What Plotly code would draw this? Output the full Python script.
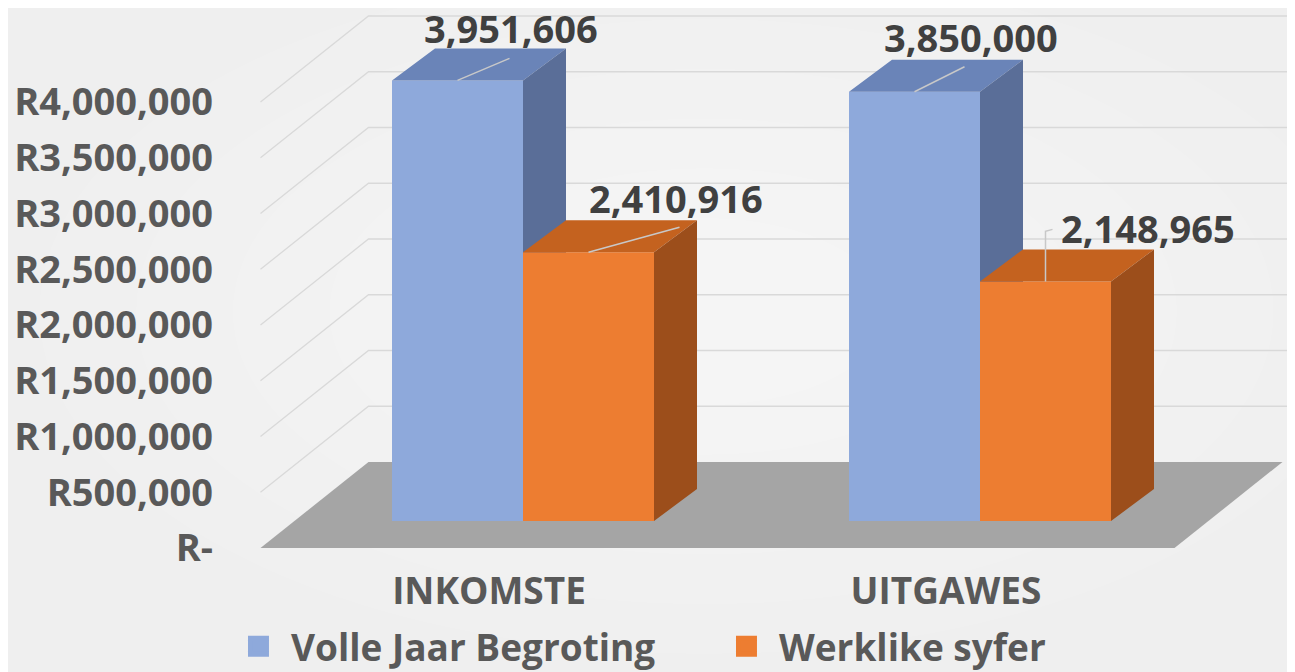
import plotly.graph_objects as go

# ---------------- data ----------------
categories = ["INKOMSTE", "UITGAWES"]
series_names = ["Volle Jaar Begroting", "Werklike syfer"]
begroting = [3951606, 3850000]
werklik = [2410916, 2148965]
data_labels_beg = ["3,951,606", "3,850,000"]
data_labels_wer = ["2,410,916", "2,148,965"]
tick_values = [0, 500000, 1000000, 1500000, 2000000, 2500000, 3000000, 3500000, 4000000]
tick_labels = ["R-", "R500,000", "R1,000,000", "R1,500,000", "R2,000,000",
               "R2,500,000", "R3,000,000", "R3,500,000", "R4,000,000"]

# ---------------- style / geometry ----------------
PAGE_OFF = 8                      # default body margin of the html page
W, H = 1295 - PAGE_OFF, 672 - PAGE_OFF
M_L, M_R, M_T, M_B = 222 - PAGE_OFF, 0, 0, 112
PX_X0 = 523 - PAGE_OFF            # pixel of category 0 (front plane, between bars)
PX_PER_CAT = 457
PX_Y0 = 521 - PAGE_OFF            # pixel of value 0 at the bar front plane
PX_PER_VAL = 111.5e-6


def xu(px):
    return px / PX_PER_CAT


def yu(px):
    return px / PX_PER_VAL


BW = xu(131)                # bar width
DX, DY = xu(43), yu(32)     # bar depth offset
F_FRONT, F_BACK = yu(27), yu(59)
SF, SB = xu(34), xu(74)

plot_w = W - M_L - M_R
plot_h = H - M_T - M_B
x_range = [(M_L - PX_X0) / PX_PER_CAT, (W - M_R - PX_X0) / PX_PER_CAT]
y_range = [-(M_T + plot_h - PX_Y0) / PX_PER_VAL, (PX_Y0 - M_T) / PX_PER_VAL]

BLUE = ["#8EA9DB", "#6A84B8", "#5A6E98"]      # front, top, side
ORANGE = ["#ED7D31", "#C4621F", "#9C4E1B"]
FLOOR = "#A5A5A5"
GRID = "#D9D9D9"
LEADER = "#C8C8C8"
FONT = "Open Sans"
BG = "#EFEFEF"

fig = go.Figure()

# soft radial lightening of the background (paper coordinates)
for k in range(6):
    rx, ry = 0.62 - k * 0.09, 0.62 - k * 0.09
    fig.add_shape(type="circle", xref="paper", yref="paper", layer="below",
                  x0=0.45 - rx, x1=0.45 + rx, y0=0.45 - ry, y1=0.45 + ry,
                  fillcolor="white", opacity=0.1, line=dict(width=0))


def path(xs, ys, close=True):
    s = "M {} {}".format(xs[0], ys[0])
    for x, y in zip(xs[1:], ys[1:]):
        s += " L {} {}".format(x, y)
    return s + (" Z" if close else "")


# gridlines on the walls
for v in tick_values[1:]:
    fig.add_shape(type="path", xref="x", yref="y", layer="below",
                  path=path([-0.5 - SF, -0.5 + SB, 1.5 + SB + xu(6)],
                            [v - F_FRONT, v + F_BACK, v + F_BACK], close=False),
                  line=dict(color=GRID, width=1.3))

# floor
fig.add_shape(type="path", xref="x", yref="y", layer="below",
              path=path([-0.5 - SF, 1.5 - SF, 1.5 + SB, -0.5 + SB],
                        [-F_FRONT, -F_FRONT, F_BACK, F_BACK]),
              fillcolor=FLOOR, line=dict(width=0))


def add_series(values, offset, colors, name, z):
    xs = list(range(len(values)))
    fig.add_trace(go.Bar(x=xs, y=values, width=BW, offset=offset, base=0, zorder=z,
                         marker=dict(color=colors[0], line=dict(width=0)),
                         showlegend=False, hoverinfo="skip"))
    tx, ty, sx, sy = [], [], [], []
    for i, v in zip(xs, values):
        x0, x1 = i + offset, i + offset + BW
        tx += [x0, x0 + DX, x1 + DX, x1, x0, None]
        ty += [v, v + DY, v + DY, v, v, None]
        sx += [x1, x1 + DX, x1 + DX, x1, x1, None]
        sy += [0, DY, v + DY, v, 0, None]
    fig.add_trace(go.Scatter(x=tx, y=ty, mode="lines", fill="toself", fillcolor=colors[1], zorder=z,
                             line=dict(width=0, color=colors[1]), showlegend=False, hoverinfo="skip"))
    fig.add_trace(go.Scatter(x=sx, y=sy, mode="lines", fill="toself", fillcolor=colors[2], zorder=z,
                             line=dict(width=0, color=colors[2]), showlegend=False, hoverinfo="skip"))
    # legend entry
    fig.add_trace(go.Scatter(x=[None], y=[None], mode="markers", name=name,
                             marker=dict(symbol="square", size=16, color=colors[0],
                                         line=dict(color=colors[0], width=5))))


add_series(begroting, -BW, BLUE, series_names[0], 1)
add_series(werklik, 0, ORANGE, series_names[1], 2)

# data labels + leader lines (offsets in px from the front-top centre of each bar)
label_off_beg = [(53.5, 52), (56, 55)]
label_off_wer = [(87.5, 54), (102.5, 53)]
leader_beg = [[(0, 0), (52, 22)], [(0, 0), (50, 25)]]
leader_wer = [[(0, 0), (91, 25)], [(0, 0), (0, 50), (7, 52)]]

for values, texts, offs, leaders, cx in [
        (begroting, data_labels_beg, label_off_beg, leader_beg, -BW / 2),
        (werklik, data_labels_wer, label_off_wer, leader_wer, BW / 2)]:
    for i, v in enumerate(values):
        bx = i + cx
        lx, ly = [], []
        for (px, py) in leaders[i]:
            lx.append(bx + xu(px))
            ly.append(v + yu(py))
        fig.add_trace(go.Scatter(x=lx, y=ly, mode="lines", line=dict(color=LEADER, width=1.5),
                                 zorder=3, showlegend=False, hoverinfo="skip"))
        fig.add_annotation(x=bx + xu(offs[i][0]), y=v + yu(offs[i][1]), text=texts[i],
                           showarrow=False, xanchor="center", yanchor="middle",
                           font=dict(family=FONT, size=38, color="#404040", weight="bold"))

fig.update_layout(
    width=W, height=H,
    margin=dict(l=M_L, r=M_R, t=M_T, b=M_B, autoexpand=False),
    paper_bgcolor=BG, plot_bgcolor="rgba(0,0,0,0)",
    barmode="overlay",
    xaxis=dict(range=x_range, showgrid=False, zeroline=False, showline=False,
               tickmode="array", tickvals=[i - SF for i in range(len(categories))],
               ticktext=categories, ticks="", ticklabelstandoff=6,
               tickfont=dict(family=FONT, size=37, color="#595959", weight="bold")),
    yaxis=dict(range=y_range, showgrid=False, zeroline=False, showline=False,
               tickmode="array", tickvals=[v - F_FRONT for v in tick_values],
               ticktext=tick_labels, ticks="", ticklabelstandoff=8,
               tickfont=dict(family=FONT, size=38, color="#595959", weight="bold")),
    legend=dict(orientation="h", x=0.0037, y=-0.101, xanchor="left", yanchor="top",
                itemsizing="trace", itemwidth=55, entrywidth=418, entrywidthmode="pixels",
                font=dict(family=FONT, size=37, color="#595959", weight="bold"),
                bgcolor="rgba(0,0,0,0)"),
    showlegend=True,
)

fig.write_html("out.html")
